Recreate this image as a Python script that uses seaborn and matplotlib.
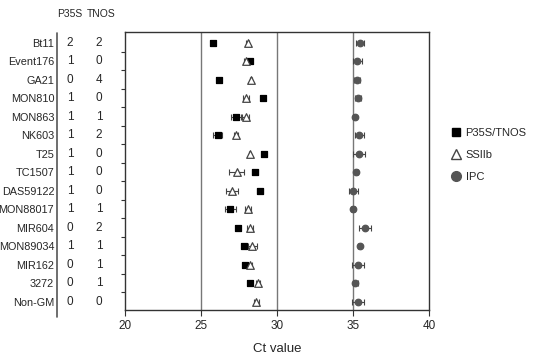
import numpy as np
import pandas as pd
import matplotlib
matplotlib.use("Agg")
import matplotlib.pyplot as plt
from matplotlib.lines import Line2D
import seaborn as sns

events = ["Bt11", "Event176", "GA21", "MON810", "MON863", "NK603", "T25", "TC1507",
          "DAS59122", "MON88017", "MIR604", "MON89034", "MIR162", "3272", "Non-GM"]
p35s_copies = [2, 1, 0, 1, 1, 1, 1, 1, 1, 1, 0, 1, 0, 0, 0]
tnos_copies = [2, 0, 4, 0, 1, 2, 0, 0, 0, 1, 2, 1, 1, 1, 0]

ct_p35s = [25.77, 28.24, 26.2, 29.1, 27.3, 26.1, 29.17, 28.53, 28.9, 26.92, 27.43, 27.85, 27.91, 28.24, np.nan]
sd_p35s = [0.1, 0.1, 0.1, 0.1, 0.3, 0.3, 0.1, 0.2, 0.2, 0.35, 0.1, 0.1, 0.15, 0.1, np.nan]
ct_ssiib = [28.09, 27.98, 28.3, 27.98, 27.93, 27.3, 28.2, 27.36, 27.03, 28.07, 28.25, 28.38, 28.2, 28.75, 28.64]
sd_ssiib = [0.1, 0.15, 0.05, 0.2, 0.2, 0.15, 0.05, 0.5, 0.4, 0.2, 0.2, 0.3, 0.15, 0.15, 0.15]
ct_ipc = [35.46, 35.29, 35.25, 35.35, 35.13, 35.42, 35.42, 35.22, 35.02, 35.0, 35.8, 35.44, 35.35, 35.15, 35.33]
sd_ipc = [0.25, 0.3, 0.2, 0.2, 0.1, 0.3, 0.4, 0.1, 0.3, 0.1, 0.4, 0.1, 0.4, 0.15, 0.4]

series_names = ["P35S/TNOS", "SSIIb", "IPC"]
x_ticks = [20, 25, 30, 35, 40]

sns.set_style("white")
plt.rcParams["font.family"] = ["Liberation Sans", "DejaVu Sans"]

rows = []
for name, vals, sds in zip(series_names, [ct_p35s, ct_ssiib, ct_ipc], [sd_p35s, sd_ssiib, sd_ipc]):
    for i, ev in enumerate(events):
        rows.append({"event": ev, "pos": i, "series": name, "ct": vals[i], "sd": sds[i]})
df = pd.DataFrame(rows)

fig = plt.figure(figsize=(5.36, 3.57), dpi=100)
ax = fig.add_axes([125/536, 1-310/357, (429-125)/536, (310-32)/357])

# grid lines at 25, 30, 35
for xv in [25, 30, 35]:
    ax.axvline(xv, color="#777777", lw=1.0, zorder=0)

styles = {
    "P35S/TNOS": dict(marker="s", facecolor="black", edgecolor="black", size=20),
    "SSIIb": dict(marker="^", facecolor="white", edgecolor="#444444", size=30),
    "IPC": dict(marker="o", facecolor="#555555", edgecolor="#555555", size=22),
}
for name in series_names:
    sub = df[df.series == name].dropna()
    ax.errorbar(sub["ct"], sub["pos"], xerr=sub["sd"], fmt="none",
                ecolor="#444444", elinewidth=0.8, capsize=2, capthick=0.8, zorder=2)
for name in series_names:
    sub = df[df.series == name].dropna()
    st = styles[name]
    sns.scatterplot(data=sub, x="ct", y="pos", ax=ax, marker=st["marker"],
                    color=st["facecolor"], edgecolor=st["edgecolor"], linewidth=0.9,
                    s=st["size"], zorder=3, legend=False)

ax.set_xlim(20, 40)
ax.set_ylim(14.45, -0.58)
ax.set_xticks(x_ticks)
ax.set_xticklabels([str(v) for v in x_ticks], fontsize=8.5)
ax.set_yticks(range(len(events)))
ax.set_yticklabels(events, fontsize=7.8)
ax.tick_params(axis="y", which="major", left=True, length=0, pad=51)
ax.set_yticks([i + 0.5 for i in range(len(events) - 1)], minor=True)
ax.tick_params(axis="y", which="minor", left=True, length=3, width=0.8, color="#333333", direction="out")
ax.tick_params(axis="x", bottom=True, length=4, width=0.8, color="#333333", direction="out", pad=3)
ax.set_xlabel("Ct value", fontsize=9.5, labelpad=8)
ax.set_ylabel("")
for sp in ax.spines.values():
    sp.set_color("#333333")
    sp.set_linewidth(1.0)

# copy-number table
tr = ax.get_yaxis_transform()
for i, (a, b) in enumerate(zip(p35s_copies, tnos_copies)):
    ax.text(-55/304, i, str(a), transform=tr, ha="center", va="center", fontsize=8.5, clip_on=False)
    ax.text(-26/304, i, str(b), transform=tr, ha="center", va="center", fontsize=8.5, clip_on=False)
fig.text(70/536, 1-14/357, "P35S", ha="center", va="center", fontsize=7.5)
fig.text(101/536, 1-14/357, "TNOS", ha="center", va="center", fontsize=7.5)
fig.add_artist(Line2D([57/536, 57/536], [1-33/357, 1-317/357], transform=fig.transFigure,
                      color="#555555", lw=1.2))

handles = [
    Line2D([], [], marker="s", ls="none", color="black", markersize=6),
    Line2D([], [], marker="^", ls="none", markerfacecolor="white", markeredgecolor="#444444", markersize=7),
    Line2D([], [], marker="o", ls="none", color="#555555", markersize=7),
]
fig.legend(handles, series_names, loc="center left", bbox_to_anchor=(440/536, 1-155/357),
           frameon=False, fontsize=8, handletextpad=0.4, labelspacing=1.1, handlelength=1.0)

fig.savefig("out.png", dpi=100)
